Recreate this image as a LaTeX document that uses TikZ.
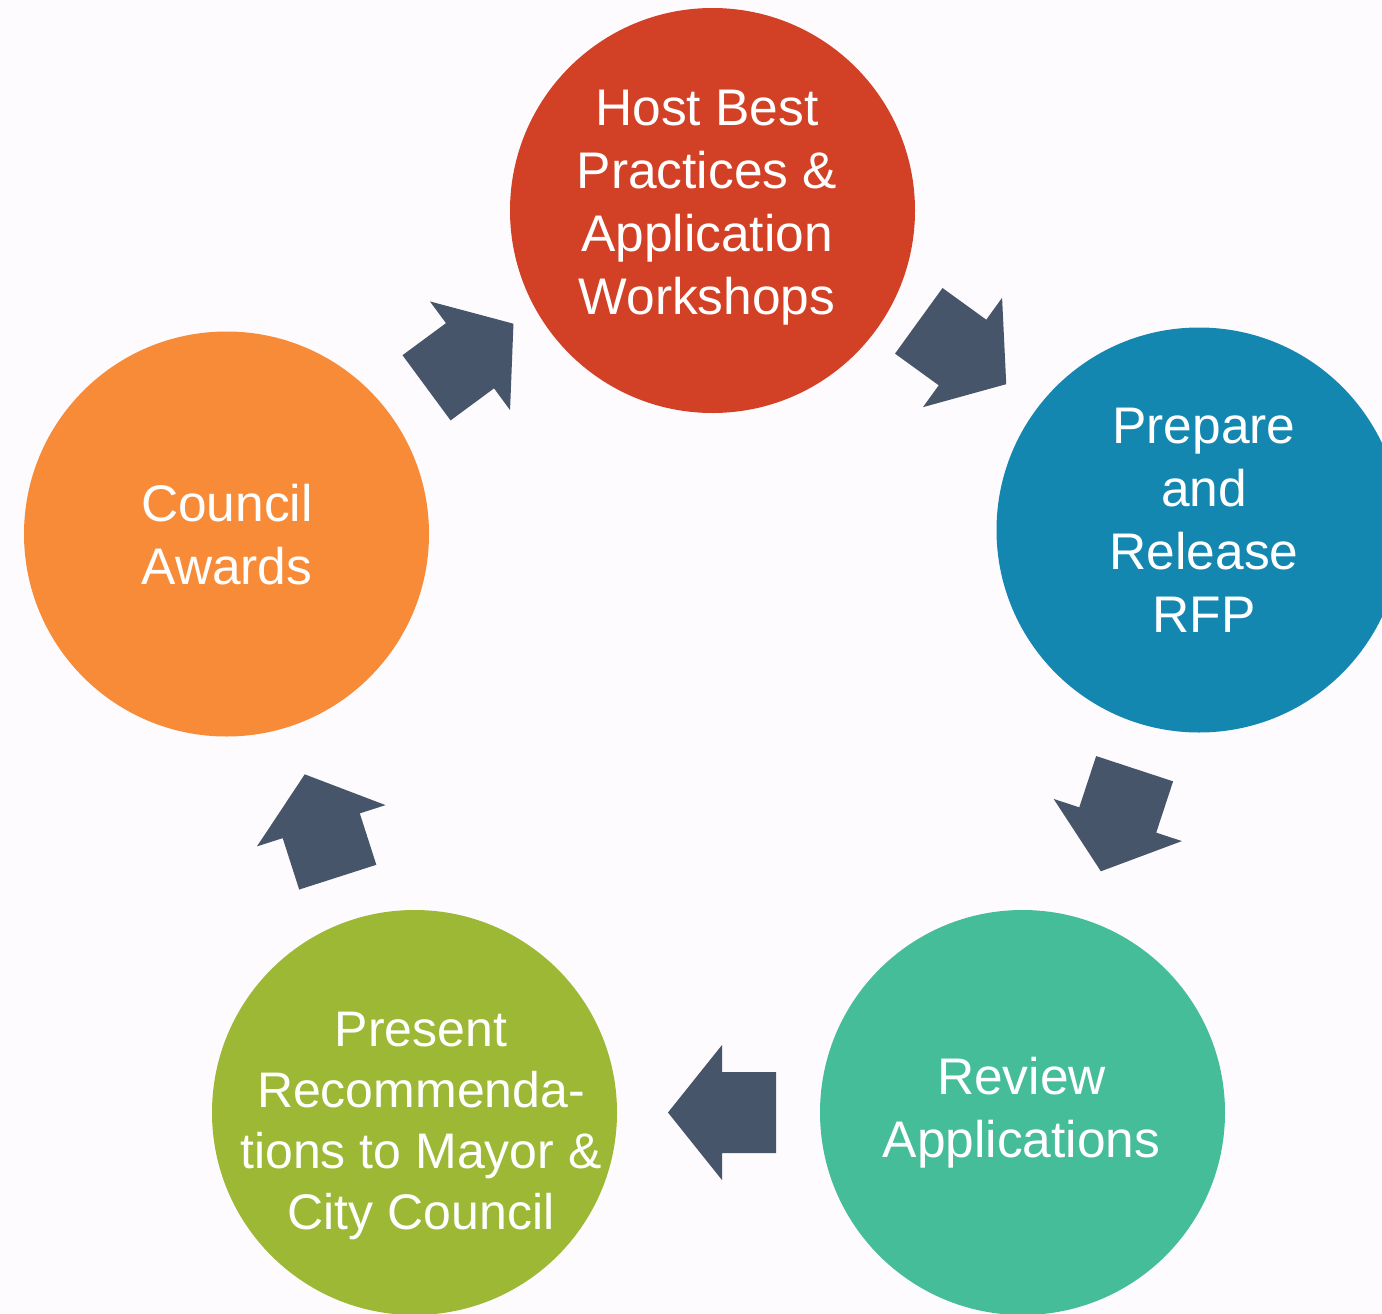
\documentclass[tikz,border=0pt]{standalone}
\usepackage{fontspec}
\setmainfont{Liberation Sans}
\definecolor{bgcol}{HTML}{FDFBFD}
\definecolor{hostcol}{HTML}{D24026}
\definecolor{rfpcol}{HTML}{1487B1}
\definecolor{reviewcol}{HTML}{46BD99}
\definecolor{presentcol}{HTML}{9CB835}
\definecolor{awardcol}{HTML}{F78B38}
\definecolor{arrowcol}{HTML}{465569}
\begin{document}
\begin{tikzpicture}[x=1pt,y=-1pt,
  stage/.style={circle, minimum size=405pt, inner sep=0pt, draw=none},
  stagetext/.style={text=white, align=center, inner sep=0pt,
                    font=\fontsize{51.5pt}{63pt}\selectfont},
  smalltext/.style={stagetext, font=\fontsize{50pt}{61pt}\selectfont},
  cyclearrow/.pic={
    \fill[arrowcol] (-54,-40.5) -- (0,-40.5) -- (0,-67.5) -- (54,0)
      -- (0,67.5) -- (0,40.5) -- (-54,40.5) -- cycle;
  }]
  % page and background
  \path[use as bounding box, fill=bgcol] (0,0) rectangle (1382,1314);
  \clip (0,0) rectangle (1382,1314);

  % the five stages of the cycle
  \node[stage, fill=hostcol]    (host)    at (712.5,210.5)  {};
  \node[stage, fill=rfpcol]     (rfp)     at (1199,530)     {};
  \node[stage, fill=reviewcol]  (review)  at (1022.5,1112.5) {};
  \node[stage, fill=presentcol] (present) at (414.5,1112.5) {};
  \node[stage, fill=awardcol]   (award)   at (226.5,534)    {};

  % stage labels
  \node[stagetext] (host-t) at (707,206.9)
    {\strut Host Best\\Practices \&\\Application\\Workshops\strut};
  \node[stagetext] (rfp-t) at (1204,524.9)
    {\strut Prepare\\and\\Release\\RFP\strut};
  \node[stagetext] (review-t) at (1021.5,1113.4)
    {\strut Review\\Applications\strut};
  \node[smalltext] (present-t) at (421,1126)
    {\strut Present\\Recommenda-\\tions to Mayor \&\\City Council\strut};
  \node[stagetext] (award-t) at (227,539.9)
    {\strut Council\\Awards\strut};

  % block arrows between the stages
  \pic[rotate=-35.9]  at (962.5,352.5)   {cyclearrow};
  \pic[rotate=-108.2] at (1117.75,820)   {cyclearrow};
  \pic[rotate=180]    at (722,1112.5)    {cyclearrow};
  \pic[rotate=107.8]  at (321.25,825.75) {cyclearrow};
  \pic[rotate=36.4]   at (470,355.75)    {cyclearrow};
\end{tikzpicture}
\end{document}
